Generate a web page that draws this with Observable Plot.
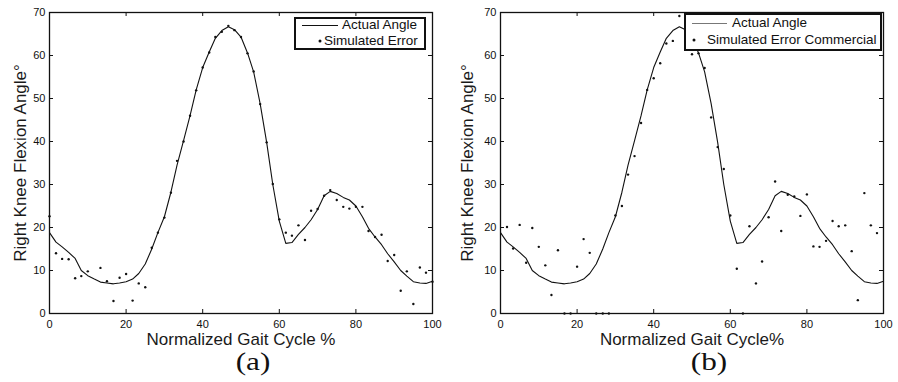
<!DOCTYPE html>
<html><head><meta charset="utf-8">
<script src="https://cdn.jsdelivr.net/npm/d3@7"></script>
<script src="https://cdn.jsdelivr.net/npm/@observablehq/plot@0.6"></script>
<style>
body{margin:0;background:#fff;font-family:"Liberation Sans",Arial,sans-serif;}
#wrap{position:relative;width:898px;height:382px;overflow:hidden;background:#fff;}
.panel{position:absolute;top:0;width:449px;height:382px;}
.panel svg{position:absolute;left:0;top:0;}
.cap{position:absolute;top:349px;font-family:"Liberation Serif","Times New Roman",serif;font-size:26px;line-height:26px;transform:translateX(-50%) scaleX(1.2);color:#111;white-space:nowrap;}
.lg{position:absolute;background:#fff;border:2px solid #111;box-sizing:border-box;}
.lt{position:absolute;font-size:13.5px;line-height:1;transform:translateY(-50%);color:#111;white-space:nowrap;}
.ll{position:absolute;height:0;border-top:1.2px solid #111;}
.ld{position:absolute;width:3px;height:3px;background:#111;transform:translate(-50%,-50%);border-radius:50%;}
</style>
</head><body>
<div id="wrap">
  <div class="panel" id="pa" style="left:0"></div>
  <div class="panel" id="pb" style="left:449px"></div>
</div>
<script>
// Normalized gait cycle positions (%)
const gaitX = [0,1.7,3.3,5,6.7,8.3,10,11.7,13.3,15,16.7,18.3,20,21.7,23.3,25,26.7,28.3,30,31.7,33.3,35,36.7,38.3,40,41.7,43.3,45,46.7,48.3,50,51.7,53.3,55,56.7,58.3,60,61.7,63.3,65,66.7,68.3,70,71.7,73.3,75,76.7,78.3,80,81.7,83.3,85,86.7,88.3,90,91.7,93.3,95,96.7,98.3,100];
// Actual right knee flexion angle (degrees)
const actualAngle = [18.8,16.6,15.5,14.2,12.8,10.0,8.8,8.0,7.3,7.1,6.9,7.1,7.4,8.0,9.3,11.5,15.0,18.8,22.5,28.2,34.5,40.2,46.0,52.0,57.2,60.8,64.0,65.8,66.7,66.0,64.3,60.6,56.2,48.8,39.8,30.0,21.5,16.3,16.5,18.4,20.0,21.8,24.2,27.4,28.4,27.9,27.0,26.4,25.0,22.5,19.8,17.8,16.0,13.9,12.0,10.0,8.7,7.4,7.1,7.0,7.5];
// Panel (a): simulated error
const simulatedError = [22.6,14.0,12.7,12.6,8.2,8.7,9.8,null,10.6,7.5,2.9,8.3,9.2,3.0,7.0,6.1,15.3,18.8,22.3,28.1,35.5,40.0,46.0,51.9,57.2,60.7,64.3,65.5,66.9,65.9,64.3,60.5,56.3,48.7,39.8,30.1,21.9,18.8,18.1,20.5,17.1,23.9,24.3,27.4,28.7,26.4,24.8,24.4,24.8,24.8,19.2,17.8,18.3,12.2,13.6,5.3,9.8,2.2,10.7,9.5,7.4];
// Panel (b): simulated error commercial
const simulatedErrorCommercial = [null,20.1,15.1,20.6,11.8,19.9,15.5,11.2,4.3,14.7,0,0,10.9,17.3,14.1,0,0,0,22.8,25.0,32.3,36.6,44.3,52.0,54.7,58.2,62.8,63.4,69.2,null,60.3,60.5,57.1,45.6,38.7,33.6,22.8,10.4,0,20.3,7.0,12.1,22.4,30.7,19.2,27.6,27.2,22.7,27.7,15.6,15.5,16.9,21.5,20.3,20.5,14.5,3.1,28.0,20.5,18.7,null];

const xTicks = [0,20,40,60,80,100];
const yTicks = [0,10,20,30,40,50,60,70];
const yLabel = "Right Knee Flexion Angle°";

function panel(el, points, opt) {
  const W = 449, H = 349, mt = 12, mb = H - 313;
  const ml = opt.ml, mr = opt.mr;
  const iw = W - ml - mr, ih = H - mt - mb, tk = 4;
  const line = gaitX.map((x, i) => ({x, y: actualAngle[i]}));
  const dots = gaitX.map((x, i) => ({x, y: points[i]})).filter(d => d.y !== null);
  const svg = Plot.plot({
    width: W, height: H,
    marginTop: mt, marginBottom: mb, marginLeft: ml, marginRight: mr,
    style: {fontFamily: "Liberation Sans, Arial, sans-serif", fontSize: "11px", color: "#111", background: "transparent", overflow: "visible"},
    x: {domain: [0, 100]},
    y: {domain: [0, 70]},
    marks: [
      Plot.axisX(xTicks, {tickSize: 0, tickPadding: 7, label: null, fontSize: 11}),
      Plot.axisY(yTicks, {tickSize: 0, tickPadding: 4, label: null, fontSize: 11}),
      Plot.ruleX(xTicks, {x: d => d, insetTop: ih - tk, stroke: "#111"}),
      Plot.ruleX(xTicks, {x: d => d, insetBottom: ih - tk, stroke: "#111"}),
      Plot.ruleY(yTicks, {y: d => d, insetRight: iw - tk, stroke: "#111"}),
      Plot.ruleY(yTicks, {y: d => d, insetLeft: iw - tk, stroke: "#111"}),
      Plot.line(line, {x: "x", y: "y", stroke: "#111", strokeWidth: 1.1}),
      Plot.dot(dots, {x: "x", y: "y", r: 1.2, fill: "#111", stroke: "none"}),
      Plot.frame({stroke: "#111", strokeWidth: 1.3}),
      Plot.text([opt.xLabel], {text: d => d, frameAnchor: "bottom", dy: 31, fontSize: 17, fill: "#1a1a1a"}),
      Plot.text([yLabel], {text: d => d, frameAnchor: "left", textAnchor: "middle", dx: opt.ydx, rotate: -90, fontSize: 17, fill: "#1a1a1a"})
    ]
  });
  el.appendChild(svg);
  const lg = opt.legend;
  const box = document.createElement("div");
  box.className = "lg";
  Object.assign(box.style, {left: lg.box[0] + "px", top: lg.box[1] + "px", width: lg.box[2] + "px", height: lg.box[3] + "px"});
  el.appendChild(box);
  const ln = document.createElement("div");
  ln.className = "ll";
  Object.assign(ln.style, {left: lg.line[0] + "px", width: (lg.line[1] - lg.line[0]) + "px", top: lg.line[2] + "px", borderTopColor: lg.lineColor});
  el.appendChild(ln);
  const d = document.createElement("div");
  d.className = "ld";
  Object.assign(d.style, {left: lg.dot[0] + "px", top: lg.dot[1] + "px"});
  el.appendChild(d);
  lg.texts.forEach(t => {
    const s = document.createElement("div");
    s.className = "lt";
    s.textContent = t[0];
    Object.assign(s.style, {left: t[1] + "px", top: t[2] + "px"});
    el.appendChild(s);
  });
  const c = document.createElement("div");
  c.className = "cap";
  c.textContent = opt.caption;
  c.style.left = opt.capX + "px";
  el.appendChild(c);
}

panel(document.getElementById("pa"), simulatedError, {
  ml: 49, mr: 17, ydx: -29, xLabel: "Normalized Gait Cycle %", caption: "(a)", capX: 253,
  legend: {box: [294, 17, 132, 33], line: [302, 338, 25], lineColor: "#111", dot: [320, 41],
           texts: [["Actual Angle", 342, 25], ["Simulated Error", 324, 41]]}
});
panel(document.getElementById("pb"), simulatedErrorCommercial, {
  ml: 51, mr: 15, ydx: -33, xLabel: "Normalized Gait Cycle%", caption: "(b)", capX: 260,
  legend: {box: [235, 13, 198, 38], line: [243, 278, 23], lineColor: "#777", dot: [245, 40],
           texts: [["Actual Angle", 283, 23], ["Simulated Error Commercial", 258, 40]]}
});
</script>
</body></html>
